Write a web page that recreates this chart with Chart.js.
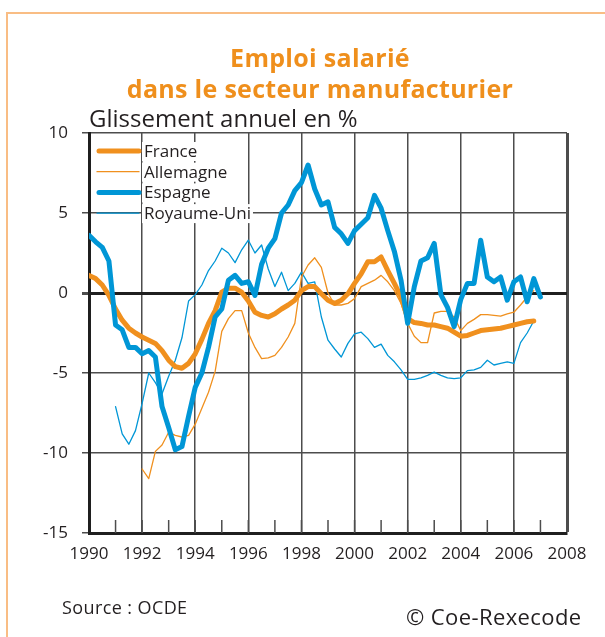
<!DOCTYPE html>
<html>
<head>
<meta charset="utf-8">
<script src="https://cdn.jsdelivr.net/npm/chart.js@4.4.1/dist/chart.umd.min.js"></script>
<style>
  body { margin: 0; background: #fff; }
  #wrap { position: relative; width: 605px; height: 637px; overflow: hidden; font-family: "Open Sans", sans-serif; }
  #frame { position: absolute; left: 6px; top: 12px; width: 620px; height: 640px;
           border-left: 2px solid #f9bd84; border-top: 2px solid #f9bd84; }
  #title { position: absolute; left: 0; width: 640px; top: 42px; text-align: center;
           font-weight: bold; font-size: 25px; line-height: 31px; color: #ef8f1c; letter-spacing: 0.3px; }
  #sub { position: absolute; left: 89px; top: 104px; font-size: 24px; line-height: 28px; color: #231f20; }
  #src { position: absolute; left: 62px; top: 596px; font-size: 18px; line-height: 22px; color: #231f20; letter-spacing: 0.4px; }
  #copy { position: absolute; left: 406px; top: 602px; font-size: 22px; line-height: 28px; color: #231f20; letter-spacing: 0.4px; }
  canvas { position: absolute; left: 0; top: 0; }
</style>
</head>
<body>
<div id="wrap">
  <div id="frame"></div>
  <canvas id="emploiChart" width="605" height="637"></canvas>
  <div id="title">Emploi salarié<br>dans le secteur manufacturier</div>
  <div id="sub">Glissement annuel en %</div>
  <div id="src">Source : OCDE</div>
  <div id="copy">© Coe-Rexecode</div>
</div>
<script>
// glissement annuel, données trimestrielles
var franceStart = 1990;
var france = [
  1.1, 0.9, 0.5, -0.15,
  -1.0, -1.7, -2.2, -2.5,
  -2.75, -2.95, -3.15, -3.6,
  -4.2, -4.6, -4.7, -4.4,
  -3.8, -2.9, -1.9, -1.1,
  0.05, 0.3, 0.3, 0.05,
  -0.5, -1.2, -1.4, -1.5,
  -1.3, -1.0, -0.75, -0.45,
  0.15, 0.4, 0.4, -0.05,
  -0.45, -0.65, -0.45, -0.05,
  0.6, 1.2, 1.95, 1.95,
  2.25, 1.4, 0.6, -0.25,
  -1.6, -1.85, -1.9, -2.0,
  -2.0, -2.1, -2.2, -2.45,
  -2.7, -2.65, -2.5, -2.35,
  -2.3, -2.25, -2.2, -2.1,
  -2.0, -1.9, -1.8, -1.75
];

var allemagneStart = 1992;
var allemagne = [
  -11.0, -11.6, -9.9, -9.5,
  -8.7, -8.9, -9.0, -8.9,
  -8.2, -7.2, -6.2, -4.9,
  -2.4, -1.6, -1.1, -1.1,
  -2.5, -3.4, -4.1, -4.05,
  -3.9, -3.4, -2.75, -1.9,
  1.0, 1.75, 2.2, 1.6,
  0.0, -0.75, -0.75, -0.65,
  -0.35, 0.4, 0.6, 0.8,
  1.1, 0.7, 0.15, -0.65,
  -1.9, -2.7, -3.1, -3.1,
  -1.25, -1.15, -1.15, -1.5,
  -2.35, -1.9, -1.65, -1.35,
  -1.35, -1.4, -1.45, -1.3,
  -1.2, -0.75, -0.25, 0.15
];

var espagneStart = 1990;
var espagne = [
  3.6, 3.2, 2.85, 2.0,
  -2.0, -2.3, -3.4, -3.4,
  -3.8, -3.6, -4.0, -7.1,
  -8.4, -9.8, -9.6, -7.7,
  -5.9, -5.0, -3.4, -1.5,
  -1.0, 0.8, 1.1, 0.6,
  0.7, -0.15, 1.8, 2.8,
  3.4, 5.0, 5.5, 6.4,
  6.9, 8.0, 6.5, 5.5,
  5.7, 4.1, 3.7, 3.1,
  3.9, 4.3, 4.7, 6.1,
  5.3, 3.9, 2.6, 0.8,
  -1.9, 0.4, 2.0, 2.2,
  3.1, -0.1, -0.9, -2.1,
  -0.4, 0.6, 0.6, 3.3,
  1.0, 0.7, 1.0, -0.45,
  0.7, 1.0, -0.55, 0.9,
  -0.25
];

var royaumeUniStart = 1991;
var royaumeUni = [
  -7.1, -8.8, -9.45, -8.6,
  -6.9, -5.0, -5.6, -6.3,
  -5.2, -4.2, -2.8, -0.5,
  -0.1, 0.5, 1.4, 2.0,
  2.8, 2.5, 1.9, 2.7,
  3.3, 2.5, 3.0, 1.5,
  0.4, 1.3, 0.15, 0.6,
  1.3, 0.6, 0.7, -1.5,
  -2.95, -3.5, -4.0, -3.15,
  -2.55, -2.45, -2.85, -3.4,
  -3.2, -3.9, -4.3, -4.8,
  -5.4, -5.4, -5.3, -5.15,
  -4.95, -5.15, -5.3, -5.35,
  -5.3, -4.85, -4.8, -4.65,
  -4.2, -4.5, -4.4, -4.3,
  -4.4, -3.1, -2.5, -1.75
];

var yTicks = [-15, -10, -5, 0, 5, 10];
var xLabels = [1990, 1992, 1994, 1996, 1998, 2000, 2002, 2004, 2006, 2008];

var orange = '#f0901e';
var bleu = '#0096d6';
var gris = '#4d4d4d';
var noir = '#1f1f1f';

function toPoints(start, values) {
  return values.map(function (v, i) { return { x: start + i / 4, y: v }; });
}

// petits repères annuels en bas, vers l'intérieur
var minorTicks = {
  id: 'minorTicks',
  beforeDatasetsDraw: function (chart) {
    var ctx = chart.ctx, area = chart.chartArea, x = chart.scales.x;
    ctx.save();
    ctx.strokeStyle = gris;
    ctx.lineWidth = 1.5;
    for (var yr = 1991; yr < 2008; yr++) {
      var px = x.getPixelForValue(yr);
      ctx.beginPath();
      ctx.moveTo(px, area.bottom);
      ctx.lineTo(px, area.bottom - 13);
      ctx.stroke();
    }
    ctx.restore();
  }
};

// légende dans le coin haut gauche, dans l'ordre des séries
var cornerLegend = {
  id: 'cornerLegend',
  beforeDatasetsDraw: function (chart) {
    var ctx = chart.ctx, area = chart.chartArea;
    var x0 = area.left + 8, y0 = area.top + 18, step = 20.7;
    ctx.save();
    ctx.font = '17px "Open Sans", sans-serif';
    ctx.textBaseline = 'middle';
    ctx.lineCap = 'round';
    chart.data.datasets.forEach(function (ds, i) {
      var y = y0 + i * step;
      var w = ctx.measureText(ds.label).width;
      ctx.fillStyle = '#fff';
      ctx.fillRect(x0 + 45, y - 9, w + 4, 19);
      ctx.strokeStyle = ds.borderColor;
      ctx.lineWidth = ds.borderWidth;
      ctx.beginPath();
      ctx.moveTo(x0 + (ds.borderWidth > 2 ? 2 : 0), y);
      ctx.lineTo(x0 + 42, y);
      ctx.stroke();
      ctx.fillStyle = '#231f20';
      ctx.fillText(ds.label, x0 + 47, y + 1);
    });
    ctx.restore();
  }
};

Chart.defaults.font.family = '"Open Sans", sans-serif';
Chart.defaults.color = '#231f20';

new Chart('emploiChart', {
  type: 'line',
  data: {
    datasets: [
      { label: 'France', data: toPoints(franceStart, france), borderColor: orange, borderWidth: 5, order: 1 },
      { label: 'Allemagne', data: toPoints(allemagneStart, allemagne), borderColor: orange, borderWidth: 1.3, order: 2 },
      { label: 'Espagne', data: toPoints(espagneStart, espagne), borderColor: bleu, borderWidth: 5, order: 0 },
      { label: 'Royaume-Uni', data: toPoints(royaumeUniStart, royaumeUni), borderColor: bleu, borderWidth: 1.3, order: 3 }
    ]
  },
  options: {
    responsive: false,
    animation: false,
    elements: {
      point: { radius: 0 },
      line: { tension: 0, borderJoinStyle: 'round', borderCapStyle: 'round', fill: false }
    },
    layout: { padding: { top: 133, right: 38, bottom: 74, left: 0 } },
    scales: {
      x: {
        type: 'linear',
        min: 1990,
        max: 2008,
        afterFit: function (s) { s.height = 30; },
        ticks: {
          stepSize: 1,
          autoSkip: false,
          maxRotation: 0,
          padding: 11,
          font: { size: 17 },
          callback: function (v) { return xLabels.indexOf(v) >= 0 ? String(v) : ''; }
        },
        grid: {
          drawTicks: false,
          color: function (c) { return c.tick && xLabels.indexOf(c.tick.value) >= 0 ? gris : 'rgba(0,0,0,0)'; },
          lineWidth: function (c) { return c.tick && c.tick.value === 2008 ? 3 : 1.5; }
        },
        border: { color: noir, width: 3 }
      },
      y: {
        min: -15,
        max: 10,
        afterFit: function (s) { s.width = 89; },
        afterBuildTicks: function (s) { s.ticks = yTicks.map(function (v) { return { value: v }; }); },
        ticks: { padding: 14, font: { size: 17 } },
        grid: {
          color: function (c) { return c.tick && c.tick.value === 0 ? noir : gris; },
          lineWidth: function (c) { return c.tick && c.tick.value === 0 ? 3 : 1.5; },
          tickLength: 7,
          tickColor: gris
        },
        border: { color: noir, width: 3 }
      }
    },
    plugins: {
      legend: { display: false },
      tooltip: { enabled: false }
    }
  },
  plugins: [minorTicks, cornerLegend]
});
</script>
</body>
</html>
